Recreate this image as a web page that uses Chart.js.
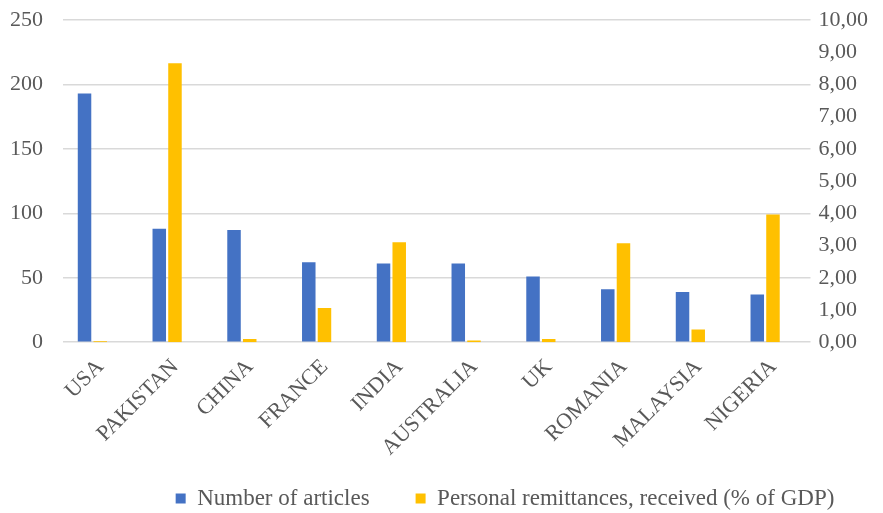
<!DOCTYPE html>
<html>
<head>
<meta charset="utf-8">
<script src="https://cdn.jsdelivr.net/npm/chart.js@4"></script>
<style>
  html, body { margin: 0; padding: 0; background: #fff; }
  #wrap { width: 883px; height: 513px; }
</style>
</head>
<body>
<div id="wrap"><canvas id="chart"></canvas></div>
<script>
/* data */
const countries = ['USA', 'PAKISTAN', 'CHINA', 'FRANCE', 'INDIA', 'AUSTRALIA', 'UK', 'ROMANIA', 'MALAYSIA', 'NIGERIA'];
const articles = [193, 88, 87, 62, 61, 61, 51, 41, 39, 37];
const remittances = [0.03, 8.66, 0.1, 1.06, 3.1, 0.05, 0.1, 3.07, 0.39, 3.96];

const gray = '#595959';
const serif = "'Liberation Serif', 'Times New Roman', serif";

// the original has its legend lower and right of centre,
// and its bar groups sit a little left of the grid's centre
const nudge = {
  id: 'nudge',
  afterLayout(chart) {
    const lg = chart.legend;
    lg.left += 66;
    lg.right += 66;
    lg.top = 441;
    const x = chart.scales.x;
    x.left -= 8;
    x.right -= 8;
    x.configure();
  }
};

const noPad = s => {
  s.paddingLeft = 0;
  s.paddingRight = 0;
  s.paddingTop = 0;
  s.paddingBottom = 0;
};
// v4 counts tick padding twice in a vertical axis width
const yFit = s => {
  noPad(s);
  s.width -= s.options.ticks.padding;
};

new Chart(document.getElementById('chart'), {
  type: 'bar',
  data: {
    labels: countries,
    datasets: [{
      label: 'Number of articles',
      data: articles,
      backgroundColor: '#4472C4',
      yAxisID: 'y'
    }, {
      label: 'Personal remittances, received (% of GDP)',
      data: remittances,
      backgroundColor: '#FFC000',
      yAxisID: 'y1'
    }]
  },
  plugins: [nudge],
  options: {
    responsive: true,
    maintainAspectRatio: false,
    animation: false,
    datasets: {
      bar: { categoryPercentage: 0.42, barPercentage: 0.86 }
    },
    layout: { padding: { left: 10, right: 15, top: 20, bottom: 0 } },
    plugins: {
      tooltip: { enabled: false },
      legend: {
        position: 'bottom',
        maxHeight: 48,
        labels: {
          font: { family: serif, size: 23 },
          color: gray,
          boxWidth: 10,
          boxHeight: 10,
          padding: 46
        }
      }
    },
    scales: {
      x: {
        afterFit: noPad,
        grid: { display: false },
        border: { display: false },
        ticks: {
          font: { family: serif, size: 22 },
          color: gray,
          maxRotation: 45,
          minRotation: 45,
          padding: 4,
          labelOffset: 8
        }
      },
      y: {
        position: 'left',
        afterFit: yFit,
        min: 0,
        max: 250,
        grid: { color: '#d9d9d9', lineWidth: 1.5, drawTicks: false },
        border: { display: false },
        ticks: {
          stepSize: 50,
          font: { family: serif, size: 22 },
          color: gray,
          padding: 20
        }
      },
      y1: {
        position: 'right',
        afterFit: yFit,
        min: 0,
        max: 10,
        grid: { display: false, drawTicks: false },
        border: { display: false },
        ticks: {
          stepSize: 1,
          font: { family: serif, size: 22 },
          color: gray,
          padding: 8,
          callback: v => v.toFixed(2).replace('.', ',')
        }
      }
    }
  }
});
</script>
</body>
</html>
